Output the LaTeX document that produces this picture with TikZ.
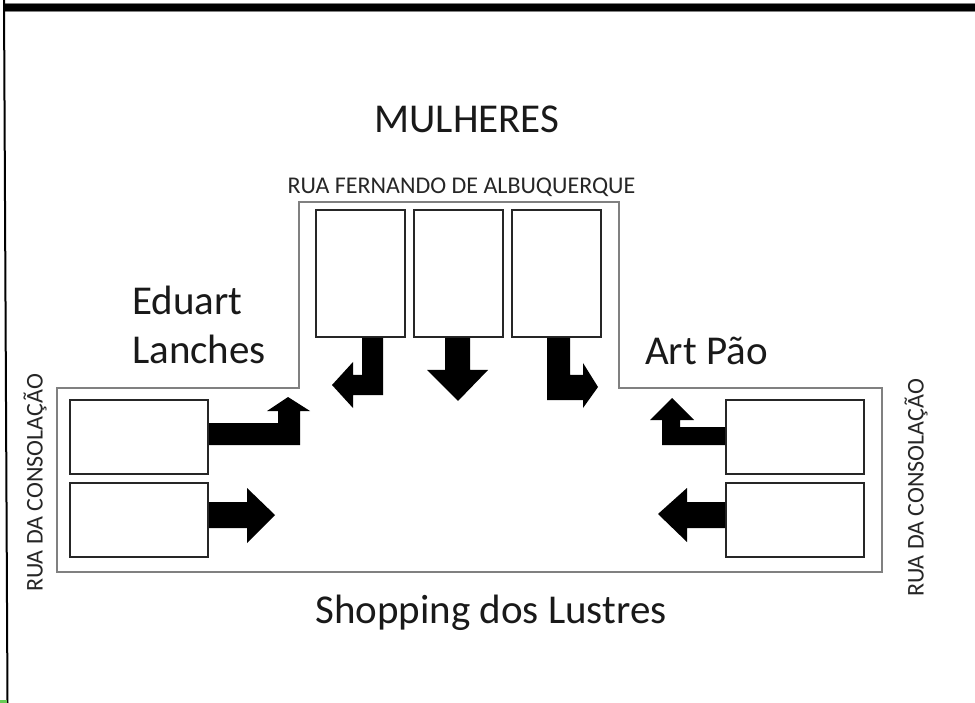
\documentclass[tikz,border=0pt]{standalone}
\usepackage{fontspec}
\setmainfont{Carlito}
\usetikzlibrary{positioning}
\definecolor{wallgray}{RGB}{128,128,128}
\definecolor{cornergreen}{RGB}{102,204,85}

\begin{document}
\begin{tikzpicture}[x=1pt, y=-1pt,
  booth/.style={draw=black!85, line width=2pt, minimum width=138pt, minimum height=74pt, inner sep=0pt, outer sep=0pt},
  tallbooth/.style={booth, minimum width=89pt, minimum height=127pt},
  street/.style={font=\fontsize{24}{28}\selectfont, text=black!85, inner sep=0pt},
  place/.style={font=\fontsize{41}{48}\selectfont, text=black!90, inner sep=0pt},
  flow/.style={fill=black},
  node distance=9pt]
  \useasboundingbox (0,0) rectangle (975,703);

  % frame
  \fill[black] (4,4) rectangle (975,11);
  \draw[gray, line width=0.6pt] (4,3.5) -- (975,3.5) (4,11) -- (975,11);
  \draw[black, line width=2pt] (4,0) -- (7.5,703);
  \fill[cornergreen] (0,700) rectangle (7,703);

  % street outline
  \draw[wallgray, line width=2pt] (57,388) -- (299,388) -- (299,202) -- (619,202)
    -- (619,388) -- (882,388) -- (882,572) -- (57,572) -- cycle;

  % booths
  \node[tallbooth] (t1) at (360.5,273.5) {};
  \node[tallbooth] (t2) [right=9pt of t1] {};
  \node[tallbooth] (t3) [right=9pt of t2] {};
  \node[booth] (l1) at (139,437) {};
  \node[booth] (l2) [below=9pt of l1] {};
  \node[booth] (r1) at (795,437) {};
  \node[booth] (r2) [below=9pt of r1] {};

  % exits
  \fill[flow] (362,338) -- (383,338) -- (383,395) -- (353,395) -- (353,408) -- (332,385)
    -- (353,362) -- (353,375) -- (362,375) -- cycle;
  \fill[flow] (445,338) -- (470,338) -- (470,370) -- (488,370) -- (458,401) -- (427,370)
    -- (445,370) -- cycle;
  \fill[flow] (547,338) -- (570,338) -- (570,375) -- (583,375) -- (583,363) -- (598,387)
    -- (583,408) -- (583,400) -- (547,400) -- cycle;
  \fill[flow] (209,423) -- (278,423) -- (278,411) -- (267,411) -- (288,397) -- (310,411)
    -- (300,411) -- (300,445) -- (209,445) -- cycle;
  \fill[flow] (209,502) -- (247,502) -- (247,488) -- (275,515) -- (247,543) -- (247,528)
    -- (209,528) -- cycle;
  \fill[flow] (725,427) -- (680,427) -- (680,420) -- (694,420) -- (672,398) -- (650,420)
    -- (662,420) -- (662,445) -- (725,445) -- cycle;
  \fill[flow] (725,502) -- (687,502) -- (687,488) -- (658,514) -- (687,542) -- (687,528)
    -- (725,528) -- cycle;

  % labels
  \node[place, anchor=base] (mulheres) at (467,133) {MULHERES};
  \node[street, anchor=base] (fernando) at (461.5,194) {RUA FERNANDO DE ALBUQUERQUE};
  \node[place, anchor=base west] (eduart) at (132,315) {Eduart};
  \node[place, anchor=base west] (lanches) at (132,363) {Lanches};
  \node[place, anchor=base west] (artpao) at (645,365) {Art Pão};
  \node[place, anchor=base] (shopping) at (491,623) {Shopping dos Lustres};
  \node[street, rotate=90] (consolacaoL) at (35,483) {RUA DA CONSOLAÇÃO};
  \node[street, rotate=90] (consolacaoR) at (916,488) {RUA DA CONSOLAÇÃO};
\end{tikzpicture}
\end{document}
